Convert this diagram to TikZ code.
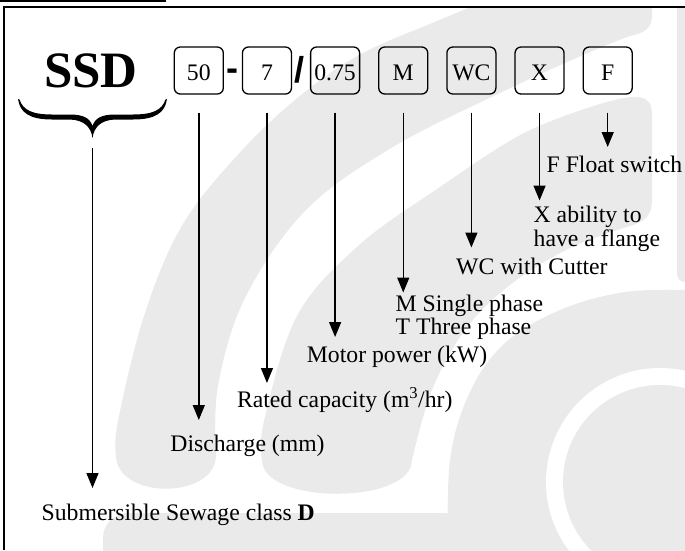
\documentclass[tikz,border=0pt]{standalone}
\usepackage{fontspec}
\setmainfont{Liberation Serif}
\newfontfamily\signfont{Liberation Sans}
\usetikzlibrary{arrows.meta}
\definecolor{wmark}{HTML}{EAEAEA}

\begin{document}
\begin{tikzpicture}[x=1pt, y=-1pt,
  codebox/.style = {draw, line width=1.3pt, rounded corners=6pt, minimum width=49pt, minimum height=47pt, inner sep=0pt, text height=20pt, text depth=0pt, font=\fontsize{23.7}{23.5}\selectfont},
  lbl/.style = {anchor=base west, inner sep=0pt, font=\fontsize{23.7}{23.5}\selectfont},
  sign/.style = {inner sep=0pt, anchor=base, font=\signfont\bfseries\fontsize{36}{36}\selectfont},
  arr/.style = {line width=1.4pt, -{Triangle[length=15pt,width=12pt]}, shorten <=18pt}]
\useasboundingbox (0,0) rectangle (685,550);
\begin{scope}
\clip (4,7) rectangle (685,550);
\fill [wmark] plot [smooth, tension=0.6] coordinates {(116,455) (118,421) (144,316) (183,224) (245,147) (306,91) (363,53) (437,21) (500,-5)}
  -- (652,-5) -- (652,15) .. controls (652,28) and (645,33) .. (630,36)
  -- plot [smooth, tension=0.6] coordinates {(630,36) (590,52) (502,92) (393,147) (306,210) (245,298) (218,386) (216,455)}
  .. controls (216,500) and (116,500) .. (116,455) -- cycle;
\fill [wmark] plot [smooth, tension=0.6] coordinates {(262,460) (264,421) (297,316) (358,246) (437,189) (524,133) (600,104)}
  .. controls (640,92) and (652,95) .. (652,115) -- (652,200) .. controls (652,215) and (645,222) .. (630,226)
  -- plot [smooth, tension=0.6] coordinates {(630,226) (570,248) (510,285) (465,330) (432,390) (412,460)}
  .. controls (412,505) and (262,505) .. (262,460) -- cycle;
\fill [wmark] plot [smooth, tension=0.6] coordinates {(448,560) (450,460) (470,392) (505,343) (560,310) (625,292) (690,290)} -- (690,560) -- cycle;
\fill [wmark, rounded corners=8pt] (677,-5) rectangle (700,282);
\fill [white] (660,482) circle (114pt);
\fill [wmark] (660,482) circle (97pt);
\fill [wmark, rounded corners=25pt] (103,513) rectangle (507,600);
\end{scope}
\draw [line width=1.5pt] (4,550) -- (4,7) -- (685,7);
\draw [line width=2.5pt] (0,1.2) -- (165.5,1.2);

\node [inner sep=0pt, anchor=base, font=\bfseries\fontsize{51}{51}\selectfont] (ssd) at (91,87.5) {SSD};
\fill (18,99) .. controls (20,113) and (30,119.5) .. (52,119.5) -- (70,119.5) .. controls (84,120) and (91,127) .. (92.5,138)
  .. controls (94,127) and (101,120) .. (115,119.5) -- (133,119.5) .. controls (155,119.5) and (165,113) .. (167,99)
  -- (165.5,99.5) .. controls (162,110) and (153,114.5) .. (133,114.5) -- (115,114.5) .. controls (102,114.5) and (95,118) .. (92.5,126)
  .. controls (90,118) and (83,114.5) .. (70,114.5) -- (52,114.5) .. controls (32,114.5) and (23,110) .. (19.5,99.5) -- cycle;
\coordinate (btip) at (92.5,137);

\node [codebox] (b50) at (198.8,70.5) {50};
\node [sign] (dsh) at (232.5,80) {-};
\node [codebox] (b7) at (266.95,70.5) {7};
\node [sign] (slsh) at (299,82.5) {/};
\node [codebox] (b075) at (335.1,70.5) {0.75};
\node [codebox] (bM) at (403.25,70.5) {M};
\node [codebox] (bWC) at (471.4,70.5) {WC};
\node [codebox] (bX) at (539.55,70.5) {X};
\node [codebox] (bF) at (607.7,70.5) {F};

\coordinate (essd) at (btip |- 0,488);
\coordinate (e50) at (b50 |- 0,420);
\coordinate (e7) at (b7 |- 0,383);
\coordinate (e075) at (b075 |- 0,337);
\coordinate (eM) at (bM |- 0,292.5);
\coordinate (eWC) at (bWC |- 0,247.5);
\coordinate (eX) at (bX |- 0,200.5);
\coordinate (eF) at (bF |- 0,147);
\draw [arr, shorten <=11pt] (btip) -- (essd);
\draw [arr] (b50) -- (e50);
\draw [arr] (b7) -- (e7);
\draw [arr] (b075) -- (e075);
\draw [arr] (bM) -- (eM);
\draw [arr] (bWC) -- (eWC);
\draw [arr] (bX) -- (eX);
\draw [arr] (bF) -- (eF);

\node [lbl] (lF) at (546.5,172.3) {F Float switch};
\node [lbl] (lX1) at (533.5,222.5) {X ability to};
\node [lbl] (lX2) at (533.5,246.5) {have a flange};
\node [lbl] (lWC) at (456,274.5) {WC with Cutter};
\node [lbl] (lM1) at (395.5,311.8) {M Single phase};
\node [lbl] (lM2) at (395.5,334.5) {T Three phase};
\node [lbl] (lMot) at (306.7,362.5) {Motor power (kW)};
\node [lbl] (lRat) at (236.8,407.7) {Rated capacity (m\textsuperscript{3}/hr)};
\node [lbl] (lDis) at (170.2,451.9) {Discharge (mm)};
\node [lbl] (lSub) at (41.5,520.5) {Submersible Sewage class \textbf{D}};
\end{tikzpicture}
\end{document}
